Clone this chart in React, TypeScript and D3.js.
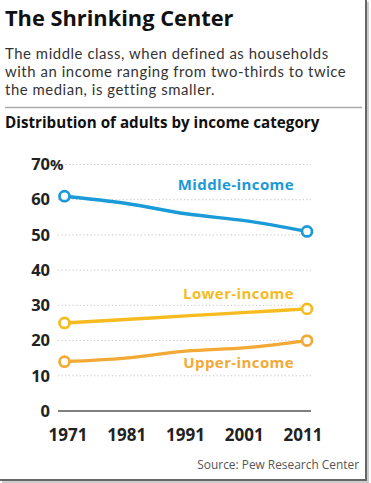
import React from "react";
import * as d3 from "d3";

const years = [1971, 1981, 1991, 2001, 2011];
const middleIncome = [61, 59, 56, 54, 51];
const lowerIncome = [25, 26, 27, 28, 29];
const upperIncome = [14, 15, 17, 18, 20];
const yTicks = [0, 10, 20, 30, 40, 50, 60, 70];
const seriesNames = ["Middle-income", "Lower-income", "Upper-income"];
const seriesColors = ["#1b9ad8", "#f6bb1f", "#f2a935"];
const seriesData = [middleIncome, lowerIncome, upperIncome];
const labelY = [185, 294, 363];
const subtitleLines = [
  "The middle class, when defined as households",
  "with an income ranging from two-thirds to twice",
  "the median, is getting smaller.",
];

const W = 371;
const H = 483;
const FONT = "'Open Sans', 'Noto Sans', sans-serif";
const SUB_FONT = "Lato, 'Open Sans', sans-serif";

export default function App() {
  const x = d3.scaleLinear().domain([1971, 2011]).range([64.5, 307]);
  const xLabel = d3.scalePoint<number>().domain(years).range([68, 303]);
  const y = d3.scaleLinear().domain([0, 70]).range([411, 164.5]);
  const line = d3
    .line<number>()
    .x((_, i) => x(years[i]))
    .y((d) => y(d))
    .curve(d3.curveMonotoneX);

  return (
    <svg
      width={W}
      height={H}
      style={{ position: "absolute", left: 0, top: 0, background: "#fff" }}
      fontFamily={FONT}
    >
      <rect x={0} y={0} width={W} height={H} fill="#fff" />
      <text x={5} y={26} fontSize={21.8} fontWeight={700} fill="#111">
        The Shrinking Center
      </text>
      <g fontSize={14.9} fill="#333" fontFamily={SUB_FONT}>
        {subtitleLines.map((s, i) => (
          <text key={i} x={5} y={59 + i * 18} letterSpacing={0.55}>
            {s}
          </text>
        ))}
      </g>
      <line x1={5} x2={362} y1={107.5} y2={107.5} stroke="#aaa" strokeWidth={1.5} />
      <text x={5} y={128} fontSize={15.2} fontWeight={700} fill="#111">
        Distribution of adults by income category
      </text>

      {yTicks.map((t) =>
        t === 0 ? (
          <line key={t} x1={58} x2={311} y1={y(t)} y2={y(t)} stroke="#555" strokeWidth={1.5} />
        ) : (
          <line
            key={t}
            x1={58}
            x2={311}
            y1={y(t)}
            y2={y(t)}
            stroke="#c4c4c4"
            strokeWidth={1}
            strokeDasharray="1.2,2.4"
          />
        )
      )}
      <g fontSize={16.5} fontWeight={700} fill="#222">
        {yTicks.map((t) => (
          <text key={t} x={50} y={y(t)} dy="0.35em" textAnchor="end">
            {t}
          </text>
        ))}
        <text x={50} y={y(70)} dy="0.35em" fontSize={15}>%</text>
      </g>
      <g fontSize={17} fontWeight={700} fill="#222">
        {years.map((yr) => (
          <text key={yr} x={xLabel(yr)} y={441} textAnchor="middle">
            {yr}
          </text>
        ))}
      </g>

      {seriesData.map((s, k) => (
        <g key={k}>
          <path d={line(s) || ""} fill="none" stroke={seriesColors[k]} strokeWidth={3.4} />
          {[0, s.length - 1].map((i) => (
            <circle
              key={i}
              cx={x(years[i])}
              cy={y(s[i])}
              r={5}
              fill="#fff"
              stroke={seriesColors[k]}
              strokeWidth={2.7}
            />
          ))}
          <text
            x={294}
            y={labelY[k]}
            dy="0.35em"
            textAnchor="end"
            fontSize={15}
            fontWeight={700}
            fill={seriesColors[k]}
            letterSpacing={0.4}
          >
            {seriesNames[k]}
          </text>
        </g>
      ))}

      <text x={359} y={469} textAnchor="end" fontSize={11.9} fill="#555">
        Source: Pew Research Center
      </text>

      <line x1={366} x2={366} y1={0} y2={481} stroke="#666" strokeWidth={2} />
      <line x1={368} x2={368} y1={2} y2={482} stroke="#ccc" strokeWidth={2} />
      <line x1={0} x2={367} y1={480} y2={480} stroke="#666" strokeWidth={2} />
      <line x1={2} x2={369} y1={482} y2={482} stroke="#ccc" strokeWidth={2} />
    </svg>
  );
}
